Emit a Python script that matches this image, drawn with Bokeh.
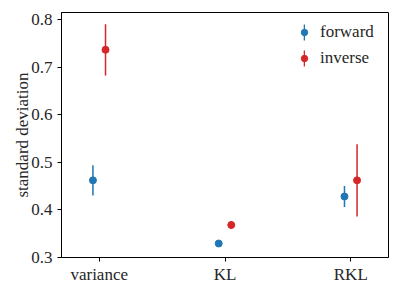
from bokeh.plotting import figure
from bokeh.models import (ColumnDataSource, Range1d, FixedTicker, PrintfTickFormatter,
                          Legend, LegendItem)
from bokeh.embed import file_html
from bokeh.resources import INLINE

# ---- data ----
categories = ["variance", "KL", "RKL"]
forward_mean = [0.462, 0.329, 0.428]
forward_err = [0.032, 0.004, 0.022]
inverse_mean = [0.737, 0.368, 0.462]
inverse_err = [0.054, 0.008, 0.076]
yticks = [0.3, 0.4, 0.5, 0.6, 0.7, 0.8]
series_labels = ["forward", "inverse"]

BLUE = "#1f77b4"
RED = "#d62728"
FONT = "Liberation Serif"
FS = "17px"
TXT = "#262626"

dodge = 0.05
bar_w = 0.012
xpos = list(range(len(categories)))

def make_src(means, errs, off):
    return ColumnDataSource(dict(
        x=[i + off for i in xpos],
        y=means,
        lo=[m - e for m, e in zip(means, errs)],
        hi=[m + e for m, e in zip(means, errs)],
    ))

src_f = make_src(forward_mean, forward_err, -dodge)
src_i = make_src(inverse_mean, inverse_err, dodge)

p = figure(width=407, height=296, output_backend="svg", toolbar_location=None,
           x_range=Range1d(-0.3, 2.3), y_range=Range1d(0.2995, 0.8155),
           min_border_left=61, min_border_right=19, min_border_top=12, min_border_bottom=39)
p.background_fill_color = "white"
p.border_fill_color = "white"
p.outline_line_color = "black"
p.outline_line_width = 1
p.outline_line_alpha = 1
p.grid.visible = False

# error bars (thin bars) and points
bf = p.vbar(x="x", bottom="lo", top="hi", width=bar_w, source=src_f,
            fill_color=BLUE, line_color=None)
rf = p.scatter(x="x", y="y", source=src_f, size=7, marker="circle",
               fill_color=BLUE, line_color=BLUE)
bi = p.vbar(x="x", bottom="lo", top="hi", width=bar_w, source=src_i,
            fill_color=RED, line_color=None)
ri = p.scatter(x="x", y="y", source=src_i, size=7, marker="circle",
               fill_color=RED, line_color=RED)

# axes
xa = p.xaxis[0]
xa.ticker = FixedTicker(ticks=xpos)
xa.major_label_overrides = {i: c for i, c in zip(xpos, categories)}
ya = p.yaxis[0]
ya.ticker = FixedTicker(ticks=yticks)
ya.formatter = PrintfTickFormatter(format="%.1f")
ya.axis_label = "standard deviation"
for ax in (xa, ya):
    ax.axis_line_color = "black"
    ax.axis_line_width = 1
    ax.major_tick_line_color = "black"
    ax.major_tick_line_width = 1
    ax.major_tick_in = 0
    ax.major_tick_out = 4
    ax.minor_tick_line_color = None
    ax.major_label_text_font = FONT
    ax.major_label_text_font_size = FS
    ax.major_label_text_font_style = "normal"
    ax.major_label_text_color = TXT
    ax.axis_label_text_font = FONT
    ax.axis_label_text_font_size = FS
    ax.axis_label_text_font_style = "normal"
    ax.axis_label_text_color = TXT
xa.major_label_standoff = 3
ya.major_label_standoff = 5
ya.axis_label_standoff = -4

def style_legend(lg, gh):
    lg.border_line_color = None
    lg.background_fill_alpha = 0
    lg.padding = 0
    lg.margin = 0
    lg.spacing = 6
    lg.glyph_height = gh
    lg.label_height = gh
    lg.label_text_font = FONT
    lg.label_text_font_size = FS
    lg.label_text_font_style = "normal"
    lg.label_text_color = TXT
    lg.label_standoff = 8

leg_b = Legend(items=[LegendItem(label="", renderers=[bf]),
                      LegendItem(label="", renderers=[bi])],
               location=(242, 189))
style_legend(leg_b, 20)
leg_b.glyph_width = 2

leg_a = Legend(items=[LegendItem(label=series_labels[0], renderers=[rf]),
                      LegendItem(label=series_labels[1], renderers=[ri])],
               location=(235, 189))
style_legend(leg_a, 18)
leg_a.glyph_width = 16

p.add_layout(leg_b, "center")
p.add_layout(leg_a, "center")

open("out.html", "w").write(file_html(p, INLINE))
